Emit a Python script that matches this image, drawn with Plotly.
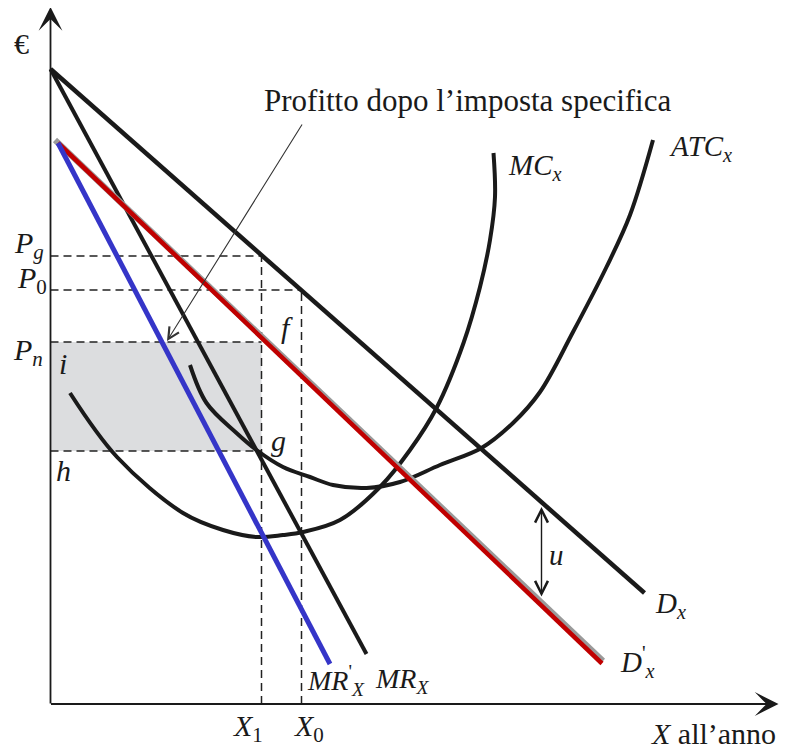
import plotly.graph_objects as go

# ---- data (economic units; origin at the axes corner) ----
D_x = [0, 594]
D_y = [635, 111]
MR_x = [0, 316]
MR_y = [635, 50]
Dp_x = [7.5, 551.5]
Dp_y = [561, 40.5]
Dp_shadow_x = [4.5, 552.5]
Dp_shadow_y = [564, 43]
MRp_x = [7.5, 279.5]
MRp_y = [561, 40]

MC_x = [19.5, 66.5, 132.5, 172.5, 206.5, 232.5, 252.5, 289.5, 329.5, 359.5,
        386, 413, 429.5, 439.5, 444.5, 443]
MC_y = [311, 247, 191, 174, 167, 169, 172, 184, 217, 254,
        296, 361, 417, 464, 507, 551]
ATC_x = [139.5, 156, 186, 206, 232.5, 259.5, 282.5, 316, 349.5, 389.5,
         431, 462.5, 489.5, 522.5, 556, 579.5, 602.5]
ATC_y = [339, 301, 271, 254, 237, 227, 219, 216, 222, 239,
         256, 281, 312, 372, 437, 489, 564]

X1, X0 = 211, 251
P_g, P_0, P_n, P_h = 448, 414, 362, 253
U_x, U_top, U_bot = 491, 197, 106

FONT = "Liberation Serif"
BLACK = "#1a1a1a"

fig = go.Figure()

# shaded profit rectangle
fig.add_trace(go.Scatter(x=[0, X1, X1, 0, 0], y=[P_h, P_h, P_n, P_n, P_h],
                         fill="toself", fillcolor="#dcdddf", mode="none",
                         hoverinfo="skip", showlegend=False))

dash = dict(color="#222", width=1.5, dash="8px,5px")
for xs, ys in [([0, X1], [P_g, P_g]), ([0, X0], [P_0, P_0]), ([0, X1], [P_n, P_n]),
               ([0, X1], [P_h, P_h]), ([X1, X1], [0, P_g]), ([X0, X0], [0, P_0])]:
    fig.add_trace(go.Scatter(x=xs, y=ys, mode="lines", line=dash,
                             hoverinfo="skip", showlegend=False))

def curve(xs, ys, color, width, shape="linear"):
    fig.add_trace(go.Scatter(x=xs, y=ys, mode="lines",
                             line=dict(color=color, width=width, shape=shape, smoothing=1.0),
                             hoverinfo="skip", showlegend=False))

curve(MC_x, MC_y, BLACK, 4, "spline")
curve(ATC_x, ATC_y, BLACK, 4, "spline")
curve(D_x, D_y, BLACK, 4.5)
curve(MR_x, MR_y, BLACK, 4)
curve(Dp_shadow_x, Dp_shadow_y, "#9a9a9a", 6)
curve(Dp_x, Dp_y, "#c00000", 4.5)
curve(MRp_x, MRp_y, "#3535c8", 5)

ann = []
# axes
ann.append(dict(x=0, y=697, ax=0, ay=-1, xref="x", yref="y", axref="x", ayref="y",
                text="", showarrow=True, arrowhead=3, arrowsize=2.2, arrowwidth=1.8,
                arrowcolor=BLACK))
ann.append(dict(x=728, y=0, ax=-1, ay=0, xref="x", yref="y", axref="x", ayref="y",
                text="", showarrow=True, arrowhead=3, arrowsize=2.2, arrowwidth=1.8,
                arrowcolor=BLACK))
# profit pointer
ann.append(dict(x=116.5, y=363, ax=252.5, ay=581, xref="x", yref="y", axref="x", ayref="y",
                text="", showarrow=True, arrowhead=5, arrowsize=2.0, arrowwidth=1.1,
                arrowcolor="#333"))
# u double arrow
ann.append(dict(x=U_x, y=U_top, ax=U_x, ay=U_bot, xref="x", yref="y", axref="x", ayref="y",
                text="", showarrow=True, arrowhead=5, startarrowhead=5, arrowside="end+start",
                arrowsize=1.8, startarrowsize=1.8, arrowwidth=1.4, arrowcolor=BLACK))

def label(x, y, t, size=30, xanchor="center"):
    ann.append(dict(x=x, y=y, xref="x", yref="y", text=t, showarrow=False,
                    xanchor=xanchor, yanchor="middle",
                    font=dict(family=FONT, size=size, color=BLACK)))

label(416.5, 604, "Profitto dopo l\u2019imposta specifica", 31)
label(-29, 661, "\u20ac", 30)
label(-21.5, 459, "<i>P<sub>g</sub></i>")
label(-19, 424, "<i>P</i><sub>0</sub>")
label(-22.5, 352, "<i>P<sub>n</sub></i>")
label(12.5, 341, "<i>i</i>")
label(12.5, 234, "<i>h</i>")
label(236.5, 377, "<i>f</i>")
label(227.5, 264, "<i>g</i>")
label(197.5, -24, "<i>X</i><sub>1</sub>")
label(258.5, -24, "<i>X</i><sub>0</sub>")
label(254, 24, "<i>MR</i><sup>'</sup><sub><i>X</i></sub>", 28, xanchor="left")
label(322, 24, "<i>MR<sub>X</sub></i>", 28, xanchor="left")
label(484.5, 537, "<i>MC<sub>x</sub></i>", 29)
label(649.5, 556, "<i>ATC<sub>x</sub></i>", 29)
label(619.5, 99, "<i>D<sub>x</sub></i>", 29)
label(567, 42, "<i>D</i><sup>'</sup><sub><i>x</i></sub>", 29, xanchor="left")
label(506, 149, "<i>u</i>", 29)
label(727, -29, "<i>X</i> all\u2019anno", 30, xanchor="right")

# the page body adds an 8px offset; ranges compensate so marks land at target pixels
fig.update_layout(
    width=787, height=754, margin=dict(l=0, r=0, t=0, b=0),
    paper_bgcolor="white", plot_bgcolor="white",
    xaxis=dict(range=[-42.5, 744.5], visible=False, fixedrange=True),
    yaxis=dict(range=[-58, 696], visible=False, fixedrange=True),
    annotations=ann, showlegend=False,
)
fig.write_html("out.html")
